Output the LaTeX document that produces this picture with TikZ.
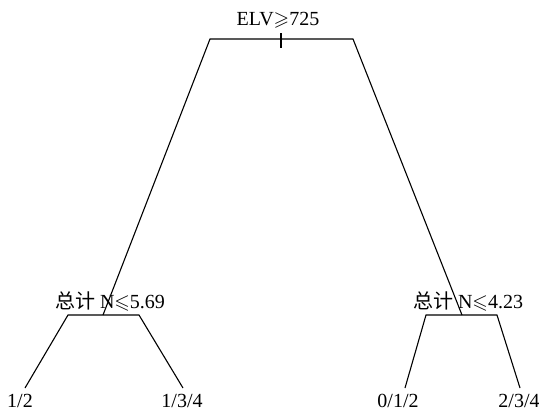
\documentclass[tikz,border=0pt]{standalone}
\usepackage{amssymb}
\usepackage{fontspec}
\setmainfont{Liberation Serif}
\newfontfamily\cjk{Noto Sans CJK SC}
\begin{document}
\begin{tikzpicture}[x=1pt,y=-1pt,
  lbl/.style={inner sep=0pt,anchor=base,font=\fontsize{20}{23}\selectfont},
  edge/.style={line width=1.1pt,line join=miter}]
\useasboundingbox (0,0) rectangle (539,413);

% split labels
\node[lbl] (root) at (278,25) {ELV$\geqslant$725};
\node[lbl] (left) at (110,308) {{\cjk 总计} N$\leqslant$5.69};
\node[lbl] (right) at (468,308) {{\cjk 总计} N$\leqslant$4.23};

% leaf labels
\node[lbl] (l1) at (20,407) {1/2};
\node[lbl] (l2) at (182,407) {1/3/4};
\node[lbl] (l3) at (398,407) {0/1/2};
\node[lbl] (l4) at (519,407) {2/3/4};

% branch points
\coordinate (rootL) at (210,39);
\coordinate (rootR) at (353,39);
\coordinate (tickT) at (281,33);
\coordinate (tickB) at (281,48);
\coordinate (leftJ) at (103,315);
\coordinate (leftL) at (68,315);
\coordinate (leftR) at (139,315);
\coordinate (rightJ) at (462,315);
\coordinate (rightL) at (426,315);
\coordinate (rightR) at (497,315);
\coordinate (e1) at (25,388);
\coordinate (e2) at (183,388);
\coordinate (e3) at (405,388);
\coordinate (e4) at (520,388);

% root split
\draw[edge] (leftJ) -- (rootL) -- (rootR) -- (rightJ);
\draw[edge] (tickT) -- (tickB);

% left split
\draw[edge] (e1) -- (leftL) -- (leftR) -- (e2);

% right split
\draw[edge] (e3) -- (rightL) -- (rightR) -- (e4);
\end{tikzpicture}
\end{document}
